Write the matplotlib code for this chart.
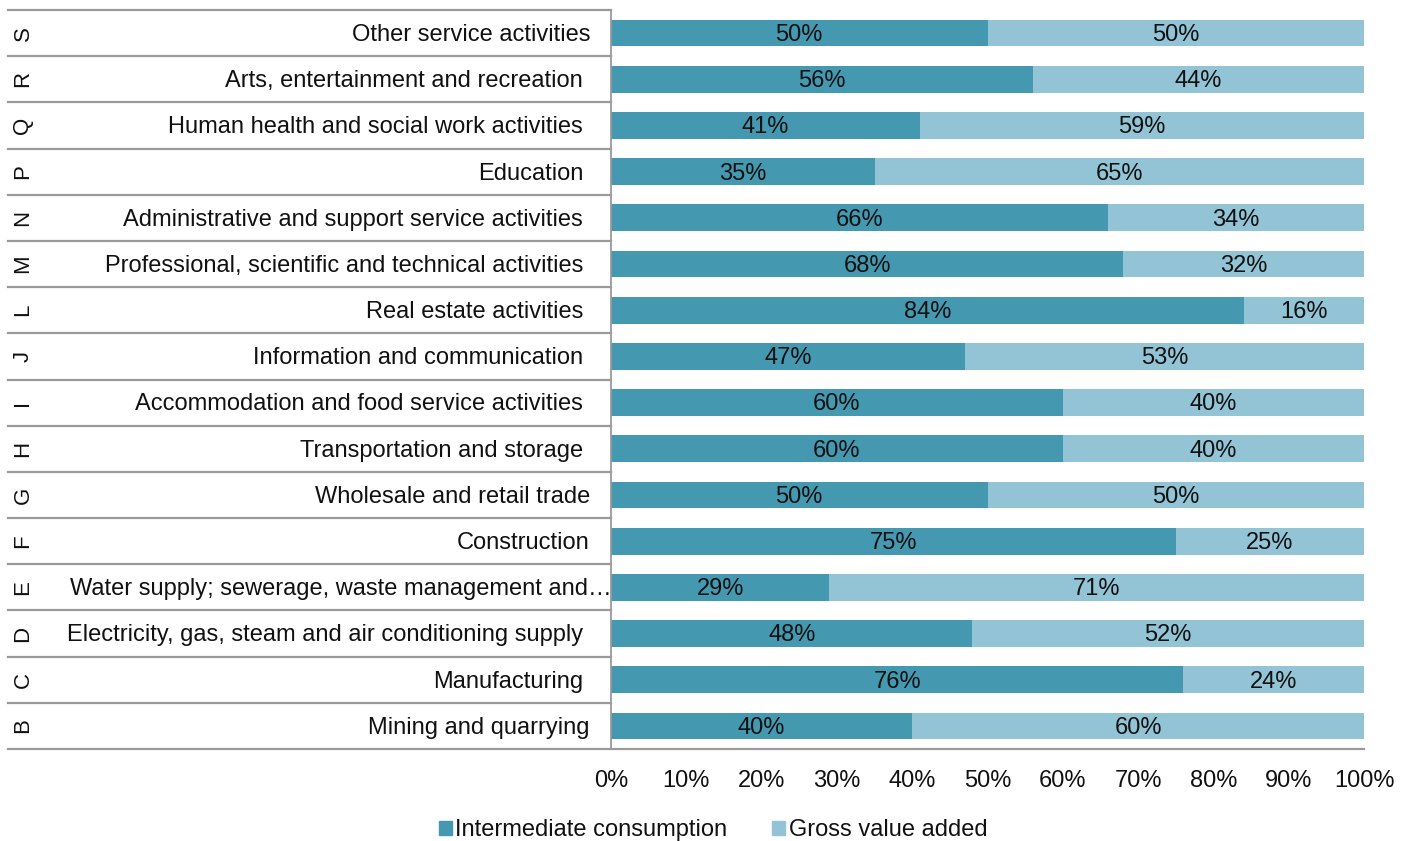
import matplotlib
matplotlib.use("Agg")
import matplotlib.pyplot as plt
from matplotlib.lines import Line2D
from matplotlib.patches import Patch
import matplotlib.transforms as mtransforms

plt.rcParams["font.family"] = ["Liberation Sans", "DejaVu Sans"]

# NACE sections, bottom row first
codes = ["B", "C", "D", "E", "F", "G", "H", "I", "J", "L", "M", "N", "P", "Q", "R", "S"]
sectors = [
    "Mining and quarrying",
    "Manufacturing",
    "Electricity, gas, steam and air conditioning supply",
    "Water supply; sewerage, waste management and\u2026",
    "Construction",
    "Wholesale and retail trade",
    "Transportation and storage",
    "Accommodation and food service activities",
    "Information and communication",
    "Real estate activities",
    "Professional, scientific and technical activities",
    "Administrative and support service activities",
    "Education",
    "Human health and social work activities",
    "Arts, entertainment and recreation",
    "Other service activities",
]
intermediate = [40, 76, 48, 29, 75, 50, 60, 60, 47, 84, 68, 66, 35, 41, 56, 50]
gross_value_added = [60, 24, 52, 71, 25, 50, 40, 40, 53, 16, 32, 34, 65, 59, 44, 50]
xticks = [0, 10, 20, 30, 40, 50, 60, 70, 80, 90, 100]
series_names = ["Intermediate consumption", "Gross value added"]

c_dark = "#4499B1"
c_light = "#93C4D5"
c_grid = "#9A9A9A"
c_text = "#111111"
fs = 17
dy = -0.04  # nudge text slightly below row centre

W, H = 1412, 841
fig = plt.figure(figsize=(W / 100, H / 100), dpi=100)
ax_l, ax_r, ax_t, ax_b = 611, 1364, 10, 749
ax = fig.add_axes([ax_l / W, 1 - ax_b / H, (ax_r - ax_l) / W, (ax_b - ax_t) / H])

n = len(codes)
ypos = list(range(n))
bar_h = 0.58
ax.barh(ypos, intermediate, height=bar_h, color=c_dark, label=series_names[0])
ax.barh(ypos, gross_value_added, left=intermediate, height=bar_h, color=c_light,
        label=series_names[1])

for y, a, b in zip(ypos, intermediate, gross_value_added):
    ax.text(a / 2, y + dy, f"{a}%", ha="center", va="center", fontsize=fs, color=c_text)
    ax.text(a + b / 2, y + dy, f"{b}%", ha="center", va="center", fontsize=fs,
            color=c_text)

ax.set_xlim(0, 100)
ax.set_ylim(-0.5, n - 0.5)
ax.set_xticks(xticks)
ax.set_xticklabels([f"{t}%" for t in xticks], fontsize=fs, color=c_text)
ax.tick_params(axis="x", length=0, pad=15)
ax.set_yticks([])
for s in ["top", "right", "bottom"]:
    ax.spines[s].set_visible(False)
ax.spines["left"].set_color(c_grid)
ax.spines["left"].set_linewidth(1.3)

# category table on the left: separators, section letters and names
trans = mtransforms.blended_transform_factory(ax.transAxes, ax.transData)
x_start = (8 - ax_l) / (ax_r - ax_l)
for k in range(n + 1):
    yb = k - 0.5
    x_end = 1.0 if k == 0 else 0.0
    ax.add_line(Line2D([x_start, x_end], [yb, yb], transform=trans, color=c_grid,
                       linewidth=1.6, clip_on=False))

name_right = {"S": 590, "G": 590, "F": 590, "B": 590, "E": 612}
for y, code, name in zip(ypos, codes, sectors):
    ax.text((23 - ax_l) / (ax_r - ax_l), y, code, transform=trans, rotation=90,
            ha="center", va="center", fontsize=fs - 1, color=c_text)
    xr = name_right.get(code, 583)
    ax.text((xr - ax_l) / (ax_r - ax_l), y + dy, name, transform=trans, ha="right",
            va="center", fontsize=fs, color=c_text)

handles = [Patch(color=c_dark), Patch(color=c_light)]
fig.legend(handles, series_names, loc="center", bbox_to_anchor=(713 / W, 1 - 830 / H),
           ncol=2, frameon=False, fontsize=fs, handlelength=0.55, handleheight=0.55,
           handletextpad=0.15, columnspacing=1.9, labelcolor=c_text)

fig.savefig("out.png", dpi=100)
